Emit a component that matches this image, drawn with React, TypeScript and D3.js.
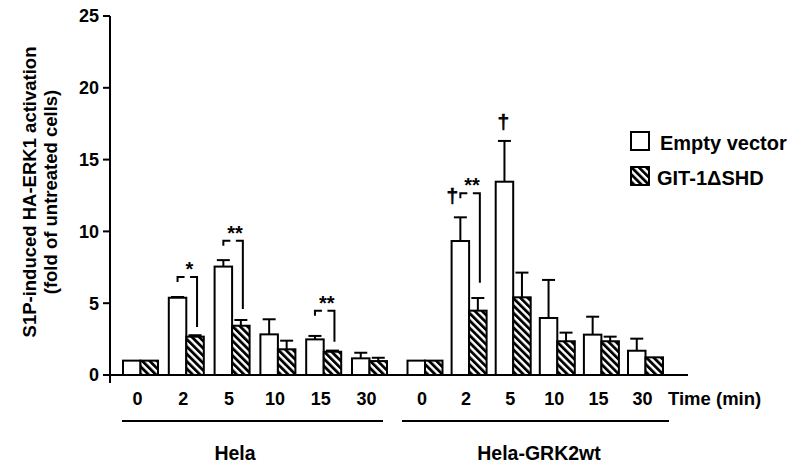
import React, { useEffect, useRef } from "react";
import * as d3 from "d3";

// values (fold of untreated cells)
const times = ["0", "2", "5", "10", "15", "30"];
const cellLines = ["Hela", "Hela-GRK2wt"];
const seriesNames = ["Empty vector", "GIT-1\u0394SHD"];

const emptyHela = [1.0, 5.38, 7.55, 2.83, 2.48, 1.16];
const emptyHelaErr = [0, 0.05, 0.45, 1.05, 0.24, 0.39];
const gitHela = [1.0, 2.67, 3.43, 1.79, 1.62, 0.97];
const gitHelaErr = [0, 0.1, 0.4, 0.6, 0.08, 0.23];

const emptyGrk = [1.0, 9.33, 13.46, 3.97, 2.81, 1.69];
const emptyGrkErr = [0, 1.65, 2.84, 2.65, 1.25, 0.84];
const gitGrk = [1.0, 4.48, 5.41, 2.35, 2.35, 1.23];
const gitGrkErr = [0, 0.88, 1.72, 0.6, 0.32, 0];

const yTicks = [0, 5, 10, 15, 20, 25];

// significance brackets: bracket top and right drop in data units
const sigBrackets = [
  { line: 0, time: "2", label: "*", top: 6.82, drop: 3.34 },
  { line: 0, time: "5", label: "**", top: 9.35, drop: 4.6 },
  { line: 0, time: "15", label: "**", top: 4.48, drop: 2.32 },
  { line: 1, time: "2", label: "**", top: 12.65, drop: 6.43 },
];
const daggers = [
  { line: 1, time: "2", value: 12.0 },
  { line: 1, time: "5", value: 17.1 },
];

interface BarDatum {
  line: number;
  time: string;
  series: number;
  value: number;
  err: number;
}

const FONT = "'Liberation Sans', Arial, Helvetica, sans-serif";

const App: React.FC = () => {
  const chartRef = useRef<HTMLDivElement>(null);

  useEffect(() => {
    const container = chartRef.current;
    if (!container) return;
    const width = 802;
    const height = 468;

    const root = d3.select(container);
    root.selectAll("*").remove();

    const svg = root
      .append("svg")
      .attr("width", width)
      .attr("height", height)
      .style("position", "absolute")
      .style("left", "0px")
      .style("top", "0px")
      .style("font-family", FONT)
      .style("font-weight", "bold")
      .attr("fill", "#000");

    // hatch pattern
    const defs = svg.append("defs");
    const pat = defs
      .append("pattern")
      .attr("id", "hatch")
      .attr("patternUnits", "userSpaceOnUse")
      .attr("width", 5.2)
      .attr("height", 10)
      .attr("patternTransform", "rotate(-45)");
    pat.append("rect").attr("width", 5.2).attr("height", 10).attr("fill", "#fff");
    pat.append("rect").attr("width", 2.8).attr("height", 10).attr("fill", "#000");

    const y = d3.scaleLinear().domain([0, 25]).range([375, 16]);
    const xLine = [
      d3.scalePoint<string>().domain(times).range([140.5, 369.5]),
      d3.scalePoint<string>().domain(times).range([425, 645.5]),
    ];
    const inner = d3
      .scaleBand<number>()
      .domain([0, 1])
      .range([-17.5, 17.5])
      .padding(0);

    const table = [
      [emptyHela, emptyHelaErr, gitHela, gitHelaErr],
      [emptyGrk, emptyGrkErr, gitGrk, gitGrkErr],
    ];
    const bars: BarDatum[] = [];
    table.forEach((t, line) => {
      times.forEach((time, i) => {
        bars.push({ line, time, series: 0, value: t[0][i], err: t[1][i] });
        bars.push({ line, time, series: 1, value: t[2][i], err: t[3][i] });
      });
    });

    const barX = (d: { line: number; time: string; series: number }) =>
      (xLine[d.line](d.time) as number) + (inner(d.series) as number);
    const barMid = (line: number, time: string, series: number) =>
      barX({ line, time, series }) + inner.bandwidth() / 2;

    // bars
    svg
      .append("g")
      .selectAll("rect")
      .data(bars)
      .enter()
      .append("rect")
      .attr("x", (d) => barX(d))
      .attr("y", (d) => y(d.value))
      .attr("width", inner.bandwidth())
      .attr("height", (d) => y(0) - y(d.value))
      .attr("fill", (d) => (d.series === 0 ? "#fff" : "url(#hatch)"))
      .attr("stroke", "#000")
      .attr("stroke-width", 2);

    // error bars
    const errG = svg.append("g").attr("stroke", "#000").attr("stroke-width", 2);
    bars
      .filter((d) => d.err > 0)
      .forEach((d) => {
        const cx = barMid(d.line, d.time, d.series);
        errG
          .append("line")
          .attr("x1", cx)
          .attr("x2", cx)
          .attr("y1", y(d.value))
          .attr("y2", y(d.value + d.err));
        errG
          .append("line")
          .attr("x1", cx - 6.5)
          .attr("x2", cx + 6.5)
          .attr("y1", y(d.value + d.err))
          .attr("y2", y(d.value + d.err));
      });

    // y axis
    const axisG = svg.append("g").attr("stroke", "#000").attr("stroke-width", 2);
    axisG
      .append("line")
      .attr("x1", 110)
      .attr("x2", 110)
      .attr("y1", y(25))
      .attr("y2", y(0) + 8);
    yTicks.forEach((t) => {
      axisG
        .append("line")
        .attr("x1", 103)
        .attr("x2", 110)
        .attr("y1", y(t))
        .attr("y2", y(t));
    });
    svg
      .append("g")
      .selectAll("text")
      .data(yTicks)
      .enter()
      .append("text")
      .attr("x", 99)
      .attr("y", (d) => y(d))
      .attr("dy", "0.36em")
      .attr("text-anchor", "end")
      .style("font-size", "18px")
      .text((d) => d);

    // x axis
    axisG
      .append("line")
      .attr("x1", 105)
      .attr("x2", 688)
      .attr("y1", y(0))
      .attr("y2", y(0));

    cellLines.forEach((name, line) => {
      times.forEach((t) => {
        svg
          .append("text")
          .attr("x", (xLine[line](t) as number) - 3)
          .attr("y", 405)
          .attr("text-anchor", "middle")
          .style("font-size", "18px")
          .text(t);
      });
    });
    svg
      .append("text")
      .attr("x", 668)
      .attr("y", 405)
      .style("font-size", "18.5px")
      .text("Time (min)");

    // group lines and labels
    const groupSpans = [
      [122, 383, 235],
      [402, 669, 539],
    ];
    cellLines.forEach((name, i) => {
      const [a, b, c] = groupSpans[i];
      axisG.append("line").attr("x1", a).attr("x2", b).attr("y1", 421).attr("y2", 421);
      svg
        .append("text")
        .attr("x", c)
        .attr("y", 460)
        .attr("text-anchor", "middle")
        .style("font-size", "19.5px")
        .text(name);
    });

    // y axis title
    const yt = svg
      .append("text")
      .attr("transform", "translate(0,192) rotate(-90)")
      .attr("text-anchor", "middle")
      .style("font-size", "18.5px");
    yt.append("tspan").attr("x", 0).attr("y", 36).text("S1P-induced HA-ERK1 activation");
    yt.append("tspan").attr("x", 0).attr("y", 57).text("(fold of untreated cells)");

    // significance brackets
    const brG = svg
      .append("g")
      .attr("fill", "none")
      .attr("stroke", "#000")
      .attr("stroke-width", 2);
    sigBrackets.forEach((s) => {
      const L = barMid(s.line, s.time, 0);
      const R = barMid(s.line, s.time, 1) + 2;
      const yy = y(s.top);
      brG.append("path").attr("d", `M${L},${yy + 5}V${yy}H${L + 7}`);
      brG.append("path").attr("d", `M${R - 7},${yy}H${R}V${y(s.drop)}`);
      svg
        .append("text")
        .attr("x", (L + R) / 2 + 2)
        .attr("y", yy - 1)
        .attr("text-anchor", "middle")
        .attr("fill", "#000")
        .style("font-size", "20px")
        .text(s.label);
    });

    daggers.forEach((d) => {
      const hasBracket = sigBrackets.some((s) => s.line === d.line && s.time === d.time);
      svg
        .append("text")
        .attr("x", barMid(d.line, d.time, 0) - (hasBracket ? 8 : 1))
        .attr("y", y(d.value))
        .attr("text-anchor", "middle")
        .attr("fill", "#000")
        .attr("stroke", "#000")
        .attr("stroke-width", 0.7)
        .style("font-family", FONT)
        .style("font-size", "21px")
        .style("font-weight", "normal")
        .text("\u2020");
    });

    // legend
    const legend = svg.append("g").attr("transform", "translate(631,132)");
    seriesNames.forEach((name, i) => {
      legend
        .append("rect")
        .attr("x", 0)
        .attr("y", i * 35)
        .attr("width", 18)
        .attr("height", 18)
        .attr("fill", i === 0 ? "#fff" : "url(#hatch)")
        .attr("stroke", "#000")
        .attr("stroke-width", 2);
      legend
        .append("text")
        .attr("x", i === 0 ? 29 : 26)
        .attr("y", i * 35 + 18)
        .style("font-size", "20px")
        .text(name);
    });
  }, []);

  return <div ref={chartRef}></div>;
};

export default App;
